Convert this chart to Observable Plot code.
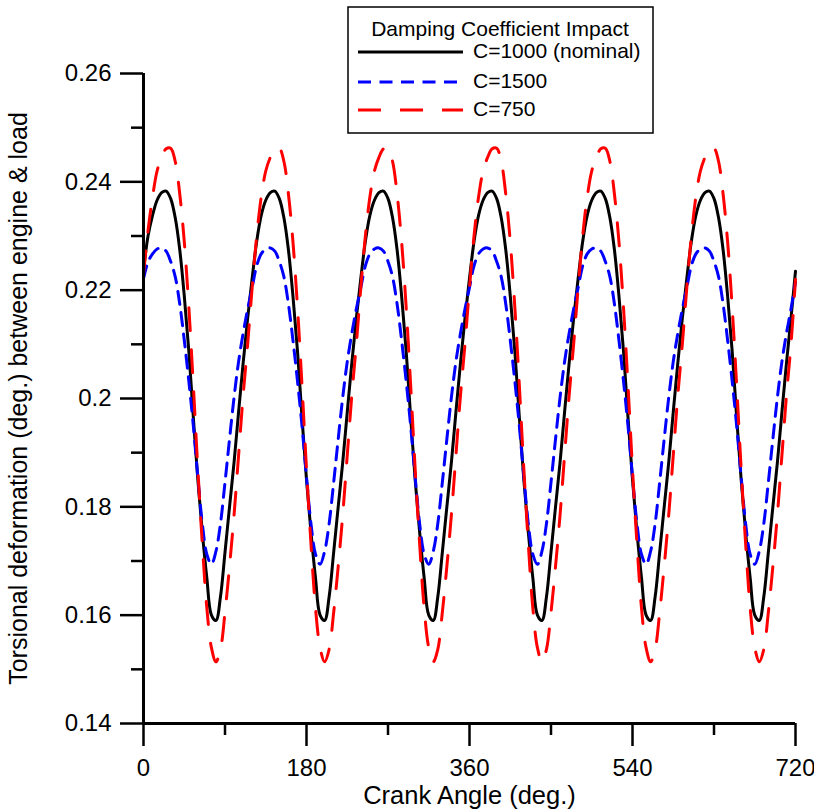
<!DOCTYPE html>
<html>
<head>
<meta charset="utf-8">
<script src="https://cdn.jsdelivr.net/npm/d3@7"></script>
<script src="https://cdn.jsdelivr.net/npm/@observablehq/plot@0.6"></script>
<style>
  body { margin: 0; background: #fff; }
  #wrap { position: relative; width: 814px; height: 812px; font-family: "Liberation Sans", Arial, Helvetica, sans-serif; }
  #legend { position: absolute; left: 347px; top: 6px; }
</style>
</head>
<body>
<div id="wrap">
  <div id="chart"></div>
  <svg id="legend" width="308" height="129"></svg>
</div>
<script>
// ---- data ----
const angles = [
  0,5,10,15,20,25,30,35,40,45,50,55,60,65,70,75,80,85,90,95,100,105,110,115,
  120,125,130,135,140,145,150,155,160,165,170,175,180,185,190,195,200,205,210,215,220,225,230,235,
  240,245,250,255,260,265,270,275,280,285,290,295,300,305,310,315,320,325,330,335,340,345,350,355,
  360,365,370,375,380,385,390,395,400,405,410,415,420,425,430,435,440,445,450,455,460,465,470,475,
  480,485,490,495,500,505,510,515,520,525,530,535,540,545,550,555,560,565,570,575,580,585,590,595,
  600,605,610,615,620,625,630,635,640,645,650,655,660,665,670,675,680,685,690,695,700,705,710,715,
  720
];

const c1000 = [
  0.2236,0.2300,0.2338,0.2366,0.2380,0.2383,0.2369,0.2334,0.2275,0.2190,0.2089,0.1966,0.1850,0.1752,0.1668,0.1600,0.1590,0.1634,0.1716,0.1800,0.1882,0.1975,0.2065,0.2148,
  0.2222,0.2290,0.2338,0.2366,0.2380,0.2383,0.2369,0.2334,0.2275,0.2190,0.2089,0.1966,0.1850,0.1752,0.1668,0.1600,0.1590,0.1634,0.1716,0.1800,0.1882,0.1975,0.2065,0.2148,
  0.2222,0.2290,0.2338,0.2366,0.2380,0.2383,0.2369,0.2334,0.2275,0.2190,0.2089,0.1966,0.1850,0.1752,0.1668,0.1600,0.1590,0.1634,0.1716,0.1800,0.1882,0.1975,0.2065,0.2148,
  0.2222,0.2290,0.2338,0.2366,0.2380,0.2383,0.2369,0.2334,0.2275,0.2190,0.2089,0.1966,0.1850,0.1752,0.1668,0.1600,0.1590,0.1634,0.1716,0.1800,0.1882,0.1975,0.2065,0.2148,
  0.2222,0.2290,0.2338,0.2366,0.2380,0.2383,0.2369,0.2334,0.2275,0.2190,0.2089,0.1966,0.1850,0.1752,0.1668,0.1600,0.1590,0.1634,0.1716,0.1800,0.1882,0.1975,0.2065,0.2148,
  0.2222,0.2290,0.2338,0.2366,0.2380,0.2383,0.2369,0.2334,0.2275,0.2190,0.2089,0.1966,0.1850,0.1752,0.1668,0.1600,0.1590,0.1634,0.1716,0.1800,0.1882,0.1975,0.2065,0.2148,
  0.2235
];

const c1500 = [
  0.2221,0.2252,0.2267,0.2276,0.2278,0.2272,0.2253,0.2225,0.2175,0.2108,0.2033,0.1950,0.1855,0.1768,0.1712,0.1694,0.1718,0.1769,0.1845,0.1925,0.2002,0.2068,0.2120,0.2165,
  0.2205,0.2245,0.2267,0.2276,0.2278,0.2272,0.2253,0.2225,0.2175,0.2108,0.2033,0.1950,0.1855,0.1768,0.1712,0.1694,0.1718,0.1769,0.1845,0.1925,0.2002,0.2068,0.2120,0.2165,
  0.2205,0.2245,0.2267,0.2276,0.2278,0.2272,0.2253,0.2225,0.2175,0.2108,0.2033,0.1950,0.1855,0.1768,0.1712,0.1694,0.1718,0.1769,0.1845,0.1925,0.2002,0.2068,0.2120,0.2165,
  0.2205,0.2245,0.2267,0.2276,0.2278,0.2272,0.2253,0.2225,0.2175,0.2108,0.2033,0.1950,0.1855,0.1768,0.1712,0.1694,0.1718,0.1769,0.1845,0.1925,0.2002,0.2068,0.2120,0.2165,
  0.2205,0.2245,0.2267,0.2276,0.2278,0.2272,0.2253,0.2225,0.2175,0.2108,0.2033,0.1950,0.1855,0.1768,0.1712,0.1694,0.1718,0.1769,0.1845,0.1925,0.2002,0.2068,0.2120,0.2165,
  0.2205,0.2245,0.2267,0.2276,0.2278,0.2272,0.2253,0.2225,0.2175,0.2108,0.2033,0.1950,0.1855,0.1768,0.1712,0.1694,0.1718,0.1769,0.1845,0.1925,0.2002,0.2068,0.2120,0.2165,
  0.2215
];

const c750 = [
  0.2230,0.2310,0.2372,0.2420,0.2445,0.2461,0.2462,0.2438,0.2378,0.2290,0.2170,0.2025,0.1870,0.1730,0.1612,0.1540,0.1514,0.1537,0.1605,0.1690,0.1785,0.1895,0.2005,0.2100,
  0.2205,0.2300,0.2372,0.2420,0.2445,0.2461,0.2462,0.2438,0.2378,0.2290,0.2170,0.2025,0.1870,0.1730,0.1612,0.1540,0.1514,0.1537,0.1605,0.1690,0.1785,0.1895,0.2005,0.2100,
  0.2205,0.2300,0.2372,0.2420,0.2445,0.2461,0.2462,0.2438,0.2378,0.2290,0.2170,0.2025,0.1870,0.1730,0.1612,0.1540,0.1514,0.1537,0.1605,0.1690,0.1785,0.1895,0.2005,0.2100,
  0.2205,0.2300,0.2372,0.2420,0.2445,0.2461,0.2462,0.2438,0.2378,0.2290,0.2170,0.2025,0.1870,0.1730,0.1612,0.1540,0.1514,0.1537,0.1605,0.1690,0.1785,0.1895,0.2005,0.2100,
  0.2205,0.2300,0.2372,0.2420,0.2445,0.2461,0.2462,0.2438,0.2378,0.2290,0.2170,0.2025,0.1870,0.1730,0.1612,0.1540,0.1514,0.1537,0.1605,0.1690,0.1785,0.1895,0.2005,0.2100,
  0.2205,0.2300,0.2372,0.2420,0.2445,0.2461,0.2462,0.2438,0.2378,0.2290,0.2170,0.2025,0.1870,0.1730,0.1612,0.1540,0.1514,0.1537,0.1605,0.1690,0.1785,0.1895,0.2005,0.2100,
  0.2220
];

const seriesNames = ["C=1000 (nominal)", "C=1500", "C=750"];
const seriesColors = ["#000000", "#0000ff", "#ff0000"];
const seriesDash = [null, "13,8.5", "23,19"];
const legendTitle = "Damping Coefficient Impact";

const xTicks = [0, 180, 360, 540, 720];
const xTickLabels = ["0", "180", "360", "540", "720"];
const xMinorTicks = [90, 270, 450, 630];
const yTicks = [0.14, 0.16, 0.18, 0.20, 0.22, 0.24, 0.26];
const yTickLabels = ["0.14", "0.16", "0.18", "0.2", "0.22", "0.24", "0.26"];
const yMinorTicks = [0.15, 0.17, 0.19, 0.21, 0.23, 0.25];
const xLabel = "Crank Angle (deg.)";
const yLabel = "Torsional deformation (deg.) between engine & load";

// ---- build table ----
const seriesValues = [c1000, c1500, c750];
const table = [];
seriesValues.forEach((vals, s) => {
  angles.forEach((a, i) => table.push({ angle: a, value: vals[i], series: seriesNames[s] }));
});

const font = "'Liberation Sans', Arial, Helvetica, sans-serif";

const lineMarks = seriesNames.map((name, s) =>
  Plot.line(table.filter(d => d.series === name), {
    x: "angle", y: "value",
    stroke: seriesColors[s],
    strokeWidth: 3,
    strokeDasharray: seriesDash[s] || undefined,
    curve: "catmull-rom"
  })
);

const chart = Plot.plot({
  width: 814,
  height: 812,
  marginLeft: 143,
  marginRight: 19,
  marginTop: 73,
  marginBottom: 89,
  style: { fontFamily: font, fontSize: "24px", background: "#fff", color: "#000", overflow: "visible" },
  x: { domain: [0, 720] },
  y: { domain: [0.14, 0.26] },
  marks: [
    Plot.axisY({ ticks: yMinorTicks, tickSize: 12, tickFormat: () => "", strokeWidth: 2.5, label: null }),
    Plot.axisY({
      ticks: yTicks, tickSize: 23, tickPadding: 9, strokeWidth: 2.5, fontSize: 24,
      tickFormat: d => yTickLabels[yTicks.indexOf(d)],
      label: null
    }),
    Plot.axisY({
      ticks: [], tickSize: 0, fontSize: 25,
      label: yLabel, labelAnchor: "center", labelOffset: 134, labelArrow: "none"
    }),
    Plot.axisX({ ticks: xMinorTicks, tickSize: 12, tickFormat: () => "", strokeWidth: 2.5, label: null }),
    Plot.axisX({
      ticks: xTicks, tickSize: 23, tickPadding: 12, strokeWidth: 2.5, fontSize: 24,
      tickFormat: d => xTickLabels[xTicks.indexOf(d)],
      label: null
    }),
    Plot.axisX({
      ticks: [], tickSize: 0, fontSize: 25.5,
      label: xLabel, labelAnchor: "center", labelOffset: 80, labelArrow: "none"
    }),
    ...lineMarks,
    Plot.ruleX([0], { strokeWidth: 3 }),
    Plot.ruleY([0.14], { strokeWidth: 3 })
  ]
});
document.getElementById("chart").appendChild(chart);

// ---- legend (boxed, overlapping the plot top like the reference) ----
const lg = d3.select("#legend");
lg.append("rect").attr("x", 1).attr("y", 1).attr("width", 305).attr("height", 126)
  .attr("fill", "#fff").attr("stroke", "#000").attr("stroke-width", 1.5);
lg.append("text").attr("x", 153).attr("y", 24).attr("text-anchor", "middle")
  .attr("dominant-baseline", "middle").attr("font-family", font).attr("font-size", 21)
  .text(legendTitle);
const rowY = [46, 76, 104];
seriesNames.forEach((name, s) => {
  lg.append("line").attr("x1", 11).attr("x2", 116).attr("y1", rowY[s]).attr("y2", rowY[s])
    .attr("stroke", seriesColors[s]).attr("stroke-width", 3)
    .attr("stroke-dasharray", seriesDash[s]);
  lg.append("text").attr("x", 126).attr("y", rowY[s]).attr("dominant-baseline", "middle")
    .attr("font-family", font).attr("font-size", 21).text(name);
});
</script>
</body>
</html>
